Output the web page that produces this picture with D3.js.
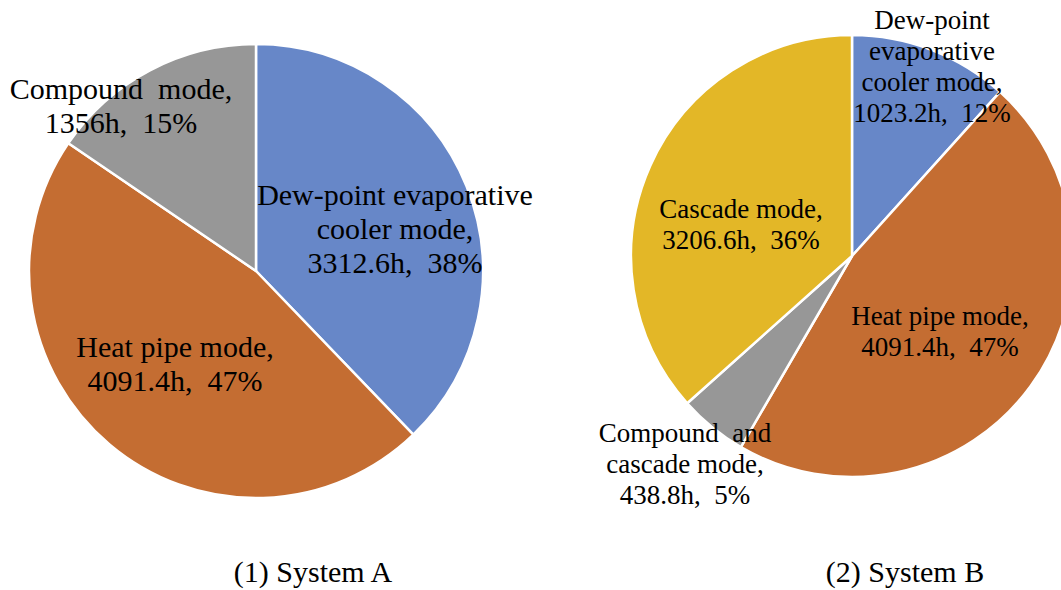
<!DOCTYPE html>
<html>
<head>
<meta charset="utf-8">
<script src="https://cdn.jsdelivr.net/npm/d3@7"></script>
</head>
<body style="margin:0">
<div id="chart"></div>
<script>

// data

var modesA = ["Dew-point evaporative cooler mode", "Heat pipe mode", "Compound mode"],
    hoursA = [3312.6, 4091.4, 1356],
    pctA = [38, 47, 15];

var modesB = ["Dew-point evaporative cooler mode", "Heat pipe mode", "Compound and cascade mode", "Cascade mode"],
    hoursB = [1023.2, 4091.4, 438.8, 3206.6],
    pctB = [12, 47, 5, 36];

// how the label text breaks into lines

var linesA = [["Dew-point evaporative", "cooler mode,"], ["Heat pipe mode,"], ["Compound\u00a0 mode,"]],
    linesB = [["Dew-point", "evaporative", "cooler mode,"], ["Heat pipe mode,"], ["Compound\u00a0 and", "cascade mode,"], ["Cascade mode,"]];

var titles = ["(1) System A", "(2) System B"];

var colorA = ["#6787c8", "#c46d32", "#979797"],
    colorB = ["#6787c8", "#c46d32", "#979797", "#e3b727"];

var width = 1061,
    height = 590;

var formatHours = d3.format(".6~f");

var svg = d3.select("#chart").append("svg")
  .attr("width", width)
  .attr("height", height);

// centred text on the svg root, default (serif) face, measured by hand

function addText(s, cx, y, fs) {
  var t = svg.append("text")
    .attr("x", cx)
    .attr("y", y)
    .style("font-size", fs + "px")
    .text(s);
  var w = t.node().getComputedTextLength();
  t.attr("x", cx - w / 2);
  return t;
}

// one pie

function drawPie(opts) {

  var g = svg.append("g")
    .attr("transform", "translate(" + opts.cx + "," + opts.cy + ")");

  var rows = opts.hours.map(function(h, i) {
    return { mode: opts.modes[i], hours: h, pct: opts.pct[i], lines: opts.lines[i], color: opts.colors[i], off: opts.offsets[i] };
  });

  var pie = d3.pie()
    .value(function(d) { return d.hours; })
    .sort(null);

  var arc = d3.arc()
    .innerRadius(0)
    .outerRadius(opts.r);

  g.selectAll("path")
    .data(pie(rows))
    .enter()
      .append("path")
        .attr("d", arc)
        .attr("fill", function(d) { return d.data.color; })
        .attr("stroke", "#fff")
        .attr("stroke-width", 2.5)
        .attr("stroke-linejoin", "round");

  opts.rows = rows;
}

// labels and caption

function drawLabels(opts) {

  opts.rows.forEach(function(d) {
    var all = d.lines.concat([formatHours(d.hours) + "h,\u00a0 " + d.pct + "%"]),
        n = all.length;
    all.forEach(function(s, i) {
      addText(s, opts.cx + d.off[0], opts.cy + d.off[1] + (i - (n - 1) / 2) * opts.lh + 0.35 * opts.fs, opts.fs);
    });
  });

  addText(opts.title, opts.tx, 582, 30);
}

var pieA = {
  cx: 256, cy: 271, r: 227,
  modes: modesA, hours: hoursA, pct: pctA, lines: linesA, colors: colorA,
  offsets: [[139, -43], [-81, 92], [-135, -166]],
  fs: 30, lh: 34,
  tx: 313, title: titles[0]
};

var pieB = {
  cx: 852, cy: 256, r: 221,
  modes: modesB, hours: hoursB, pct: pctB, lines: linesB, colors: colorB,
  offsets: [[80, -190], [88, 75], [-167, 208], [-111, -32]],
  fs: 27, lh: 31,
  tx: 905, title: titles[1]
};

drawPie(pieA);
drawPie(pieB);

drawLabels(pieA);
drawLabels(pieB);

</script>
</body>
</html>
